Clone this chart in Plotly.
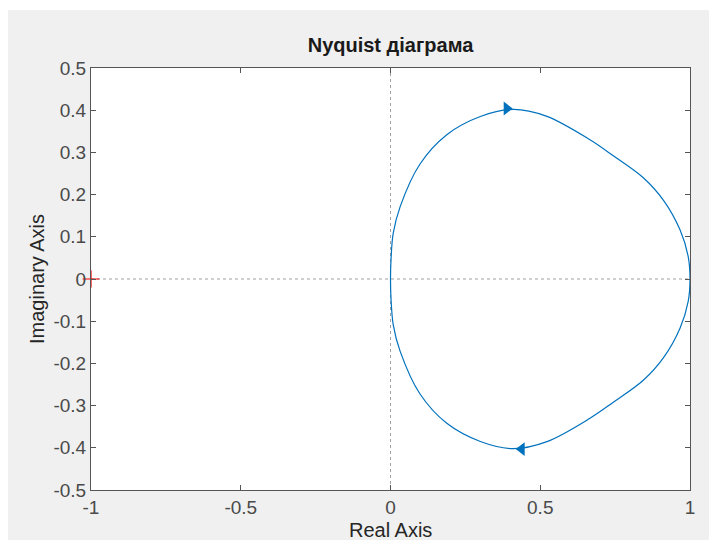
import plotly.graph_objects as go

# Nyquist locus, upper half (negative-frequency branch), from the origin to (1, 0)
re_upper = [0.0, 0.002, 0.009, 0.032, 0.098, 0.188, 0.30, 0.41, 0.52, 0.666, 0.744, 0.844, 0.911, 0.967, 0.994, 1.0]
im_upper = [0.0, 0.05, 0.108, 0.171, 0.272, 0.342, 0.385, 0.402, 0.386, 0.330, 0.292, 0.240, 0.187, 0.116, 0.053, 0.0]

# Direction arrows on each branch
arrow_up_re, arrow_up_im = [0.388], [0.404]
arrow_dn_re, arrow_dn_im = [0.438], [-0.403]

# Critical point
crit_re, crit_im = [-1.0], [0.0]

x_ticks = [-1, -0.5, 0, 0.5, 1]
x_ticktext = ["-1", "-0.5", "0", "0.5", "1"]
y_ticks = [-0.5, -0.4, -0.3, -0.2, -0.1, 0, 0.1, 0.2, 0.3, 0.4, 0.5]
y_ticktext = ["-0.5", "-0.4", "-0.3", "-0.2", "-0.1", "0", "0.1", "0.2", "0.3", "0.4", "0.5"]

# Positive-frequency branch (lower half) runs from (1,0) to the origin, then the mirrored branch back
lower_re = list(reversed(re_upper))
lower_im = [-v for v in reversed(im_upper)]
path_re = lower_re + re_upper[1:]
path_im = lower_im + im_upper[1:]

BLUE = "#0072BD"
FONT = "Liberation Sans, Arial, Helvetica, sans-serif"

W, H = 709, 540
ml, mr, mt, mb = 91, 19, 68, 50
pw, ph = W - ml - mr, H - mt - mb

fig = go.Figure()
fig.add_trace(go.Scatter(
    x=path_re, y=path_im, mode="lines",
    line=dict(color=BLUE, width=1.2, shape="spline", smoothing=1.0),
    hoverinfo="skip", showlegend=False,
))
fig.add_trace(go.Scatter(
    x=arrow_up_re, y=arrow_up_im, mode="markers",
    marker=dict(symbol="triangle-right", size=12, color=BLUE, line=dict(width=0)),
    showlegend=False,
))
fig.add_trace(go.Scatter(
    x=arrow_dn_re, y=arrow_dn_im, mode="markers",
    marker=dict(symbol="triangle-left", size=12, color=BLUE, line=dict(width=0)),
    showlegend=False,
))
fig.add_trace(go.Scatter(
    x=crit_re, y=crit_im, mode="markers", cliponaxis=False,
    marker=dict(symbol="cross-thin-open", size=12, color="red", line=dict(color="red", width=1.2)),
    showlegend=False,
))

shapes = [
    # window background strips
    dict(type="rect", xref="paper", yref="paper", layer="below",
         x0=-ml / pw, x1=-(ml - 8) / pw, y0=-mb / ph, y1=(ph + mt) / ph,
         fillcolor="white", line=dict(width=0)),
    dict(type="rect", xref="paper", yref="paper", layer="below",
         x0=-ml / pw, x1=(pw + mr) / pw, y0=(ph + mt - 10) / ph, y1=(ph + mt) / ph,
         fillcolor="white", line=dict(width=0)),
    # dotted zero lines
    dict(type="line", xref="x", yref="paper", x0=0, x1=0, y0=0, y1=1,
         line=dict(color="#a0a0a0", width=1, dash="dot"), layer="below"),
    dict(type="line", xref="paper", yref="y", x0=0, x1=1, y0=0, y1=0,
         line=dict(color="#a0a0a0", width=1, dash="dot"), layer="below"),
]

annotations = [
    dict(text="Real Axis", xref="paper", yref="paper", x=0.5, y=-(530 - mt - ph) / ph,
         xanchor="center", yanchor="middle", showarrow=False,
         font=dict(family=FONT, size=20, color="#262626")),
    dict(text="Imaginary Axis", xref="paper", yref="paper", x=-(ml - 37) / pw, y=0.5,
         xanchor="center", yanchor="middle", textangle=-90, showarrow=False,
         font=dict(family=FONT, size=20, color="#262626")),
]

axis_common = dict(
    showgrid=False, zeroline=False, showline=True, linecolor="#555555", linewidth=1,
    mirror="ticks", ticks="inside", ticklen=5, tickcolor="#555555", automargin=False,
    tickfont=dict(family=FONT, size=19, color="#4a4a4a"),
)

fig.update_layout(
    width=W, height=H,
    margin=dict(l=ml, r=mr, t=mt, b=mb),
    paper_bgcolor="#f0f0f0", plot_bgcolor="white",
    title=dict(text="<b>Nyquist діаграма</b>", x=(ml + pw / 2) / W, xanchor="center",
               y=1 - 45 / H, yanchor="middle",
               font=dict(family=FONT, size=20, color="#1a1a1a")),
    xaxis=dict(range=[-1, 1], tickvals=x_ticks, ticktext=x_ticktext, **axis_common),
    yaxis=dict(range=[-0.5, 0.5], tickvals=y_ticks, ticktext=y_ticktext, **axis_common),
    shapes=shapes,
    annotations=annotations,
    showlegend=False,
)

fig.write_html("out.html")
